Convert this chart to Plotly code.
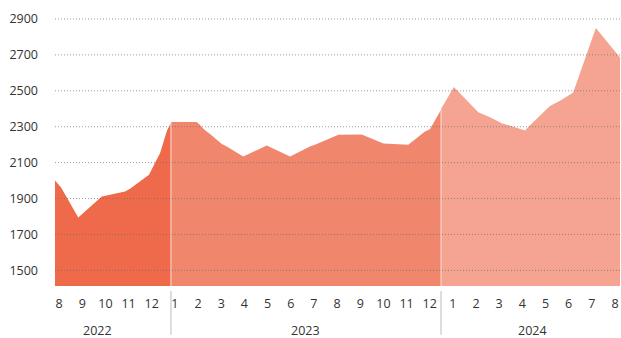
import plotly.graph_objects as go

# ---- data (x = months since Aug 2022) ----
t_2022 = [0.0, 0.27, 1.03, 1.55, 2.07, 3.10, 3.32, 4.16, 4.42, 4.65, 4.96, 5.13]
v_2022 = [2000, 1961, 1794, 1855, 1911, 1939, 1955, 2032, 2095, 2153, 2280, 2320]

t_2023 = [5.13, 6.27, 6.42, 6.60, 6.86, 7.38, 7.60, 8.33, 9.37, 10.40, 11.28,
          11.50, 12.54, 13.57, 14.53, 15.63, 16.37, 16.59, 17.08]
v_2023 = [2326, 2326, 2310, 2285, 2259, 2204, 2190, 2134, 2195, 2134, 2190,
          2199, 2255, 2257, 2206, 2200, 2273, 2286, 2395]

t_2024 = [17.08, 17.65, 18.73, 19.25, 19.77, 20.80, 20.94, 21.90, 22.35,
          22.93, 23.93, 25.0]
v_2024 = [2398, 2521, 2381, 2353, 2320, 2279, 2298, 2416, 2444, 2491, 2850,
          2686]

month_labels = ["8", "9", "10", "11", "12",
                "1", "2", "3", "4", "5", "6", "7", "8", "9", "10", "11", "12",
                "1", "2", "3", "4", "5", "6", "7", "8"]
years = ["2022", "2023", "2024"]
year_pos = [1.9, 11.1, 21.15]
y_ticks = [1500, 1700, 1900, 2100, 2300, 2500, 2700, 2900]

colors = ["#EF6A4B", "#F0876D", "#F4A490"]
font = "Open Sans, DejaVu Sans, sans-serif"

fig = go.Figure()
for t, v, c in [(t_2022, v_2022, colors[0]), (t_2023, v_2023, colors[1]),
                (t_2024, v_2024, colors[2])]:
    fig.add_trace(go.Scatter(x=t, y=v, mode="lines", fill="tozeroy",
                             fillcolor=c, line=dict(width=0, color=c),
                             hoverinfo="skip", showlegend=False))

shapes = []
for yv in y_ticks:
    shapes.append(dict(type="line", xref="paper", yref="y", x0=0, x1=1,
                       y0=yv, y1=yv, layer="above",
                       line=dict(color="rgba(110,110,110,0.7)", width=1,
                                 dash="1px,2px")))
# boundaries between years
for tb, vb in [(t_2023[0], v_2023[0]), (t_2024[0], v_2024[0])]:
    shapes.append(dict(type="line", xref="x", yref="y", x0=tb, x1=tb,
                       y0=1413, y1=vb, layer="above",
                       line=dict(color="rgba(255,255,255,0.7)", width=1)))
    shapes.append(dict(type="line", xref="x", yref="paper", x0=tb, x1=tb,
                       y0=-0.018, y1=-0.177, layer="above",
                       line=dict(color="#d2d2d2", width=1.5)))

annotations = [dict(x=p, y=-0.163, xref="x", yref="paper", text=yr,
                    showarrow=False, xanchor="center", yanchor="middle",
                    font=dict(size=12.5, color="#333", family=font))
               for p, yr in zip(year_pos, years)]

tickvals = [0.18 + 1.025 * i for i in range(len(month_labels))]

fig.update_layout(
    width=621, height=338,
    margin=dict(l=55, r=1, t=10, b=52),
    paper_bgcolor="white", plot_bgcolor="white",
    shapes=shapes, annotations=annotations,
    xaxis=dict(range=[0, 25], tickmode="array", tickvals=tickvals,
               ticktext=month_labels, showgrid=False, zeroline=False,
               showline=False, ticks="", ticklabelstandoff=8,
               tickfont=dict(size=12.5, color="#333", family=font)),
    yaxis=dict(range=[1413, 2950], tickmode="array", tickvals=y_ticks,
               showgrid=False, zeroline=False, showline=False, ticks="",
               ticklabelstandoff=16,
               tickfont=dict(size=12.5, color="#333", family=font)),
)

fig.write_html("out.html", config={"displayModeBar": False},
               post_script="document.body.style.margin='0';"
                           "document.body.style.padding='0';")
